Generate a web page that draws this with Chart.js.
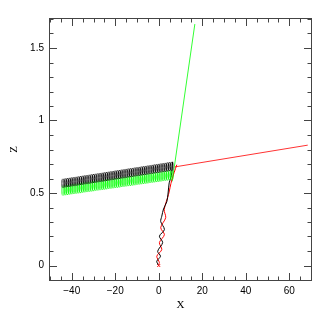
<!DOCTYPE html>
<html lang="en-US">
<head>
  <meta charset="utf-8">
  <title>x-z trajectory</title>
  <script src="https://cdn.jsdelivr.net/npm/chart.js@4.4.1/dist/chart.umd.min.js"></script>
  <style>
    html, body { margin: 0; padding: 0; background: #fff; }
    #holder { width: 327px; height: 327px; }
  </style>
</head>
<body>
  <div id="holder"><canvas id="chart"></canvas></div>
  <script>
    // loops of the spiral (one per ~1 unit in x)
    const loopX = [-44, -43, -42, -41, -40, -39, -38, -37, -36, -35, -34, -33, -32, -31, -30, -29, -28,
      -27, -26, -25, -24, -23, -22, -21, -20, -19, -18, -17, -16, -15, -14, -13, -12, -11, -10, -9,
      -8, -7, -6, -5, -4, -3, -2, -1, 0, 1, 2, 3, 4, 5, 6];
    const loopBlackZ = [0.567, 0.570, 0.572, 0.574, 0.577, 0.579, 0.581, 0.584, 0.586, 0.588, 0.591,
      0.593, 0.595, 0.598, 0.600, 0.602, 0.605, 0.607, 0.609, 0.612, 0.614, 0.616, 0.619, 0.621, 0.624,
      0.626, 0.628, 0.631, 0.633, 0.635, 0.638, 0.640, 0.642, 0.645, 0.647, 0.649, 0.652, 0.654, 0.656,
      0.659, 0.661, 0.663, 0.666, 0.668, 0.670, 0.673, 0.675, 0.677, 0.680, 0.682, 0.684];
    const loopGreenZ = [0.517, 0.519, 0.521, 0.524, 0.526, 0.528, 0.530, 0.532, 0.534, 0.537, 0.539,
      0.541, 0.543, 0.545, 0.547, 0.550, 0.552, 0.554, 0.556, 0.558, 0.560, 0.563, 0.565, 0.567, 0.569,
      0.571, 0.573, 0.576, 0.578, 0.580, 0.582, 0.584, 0.586, 0.588, 0.591, 0.593, 0.595, 0.597, 0.599,
      0.601, 0.604, 0.606, 0.608, 0.610, 0.612, 0.614, 0.617, 0.619, 0.621, 0.623, 0.625];

    // twisted pair rising from the origin
    const helixBlackX = [-0.3, -0.9, 0.8, -0.5, 1.8, 0.3, 2.6, 0.9, 1.4, 2.2, 3.7, 4.3, 4.8, 5.8, 6.4];
    const helixBlackZ = [0.005, 0.03, 0.064, 0.098, 0.158, 0.202, 0.248, 0.303, 0.34, 0.39, 0.44, 0.5, 0.57, 0.62, 0.715];
    const helixRedX = [-0.3, 0.3, -0.9, 1.4, 0.3, 2.6, 0.9, 3.2, 2.5, 4.5, 6.0, 8.3];
    const helixRedZ = [0.005, 0.02, 0.064, 0.11, 0.158, 0.213, 0.261, 0.33, 0.385, 0.49, 0.59, 0.695];

    // straight escapes
    const redLineX = [7.4, 68.5];
    const redLineZ = [0.68, 0.83];
    const greenLineX = [6.2, 16.6];
    const greenLineZ = [0.58, 1.665];

    const startX = [0];
    const startZ = [0];

    const xTicks = [-40, -20, 0, 20, 40, 60];
    const yTicks = [0, 0.5, 1, 1.5];

    const pts = (xs, zs) => xs.map((x, i) => ({ x: x, y: zs[i] }));

    function ellipseStyle(color, rx, ry) {
      const c = document.createElement('canvas');
      c.width = Math.ceil(rx * 2 + 2);
      c.height = Math.ceil(ry * 2 + 2);
      const g = c.getContext('2d');
      g.strokeStyle = color;
      g.lineWidth = 1;
      g.beginPath();
      g.ellipse(c.width / 2, c.height / 2, rx, ry, 0, 0, Math.PI * 2);
      g.stroke();
      return c;
    }

    const frameTicks = {
      id: 'frameTicks',
      afterDatasetsDraw(chart) {
        const { ctx, chartArea: a, scales: { x, y } } = chart;
        ctx.save();
        ctx.strokeStyle = '#444';
        ctx.lineWidth = 1;
        ctx.strokeRect(a.left - 0.5, a.top - 0.5, a.right - a.left + 1, a.bottom - a.top + 1);
        ctx.beginPath();
        for (let v = -50; v <= 70; v += 5) {
          const px = Math.round(x.getPixelForValue(v)) + 0.5;
          const len = xTicks.includes(v) ? 7 : 3.5;
          ctx.moveTo(px, a.bottom); ctx.lineTo(px, a.bottom - len);
          ctx.moveTo(px, a.top); ctx.lineTo(px, a.top + len);
        }
        for (let k = -1; k <= 17; k++) {
          const v = k / 10;
          const py = Math.round(y.getPixelForValue(v)) + 0.5;
          const len = (k % 5 === 0) ? 7 : 3.5;
          ctx.moveTo(a.left, py); ctx.lineTo(a.left + len, py);
          ctx.moveTo(a.right, py); ctx.lineTo(a.right - len, py);
        }
        ctx.stroke();
        ctx.restore();
      }
    };

    const fmt = v => (v < 0 ? '\u2212' + Math.abs(v) : String(v));

    new Chart(document.getElementById('chart'), {
      type: 'scatter',
      data: {
        datasets: [
          { data: pts(loopX, loopBlackZ), pointStyle: ellipseStyle('#000', 1.4, 4.3), pointRadius: 4 },
          { data: pts(loopX, loopGreenZ), pointStyle: ellipseStyle('#00ff00', 1.4, 4.8), pointRadius: 4 },
          { data: pts(helixBlackX, helixBlackZ), showLine: true, borderColor: '#000', borderWidth: 1, pointRadius: 0, tension: 0.3 },
          { data: pts(helixRedX, helixRedZ), showLine: true, borderColor: '#ff0000', borderWidth: 1, pointRadius: 0, tension: 0.3 },
          { data: pts(redLineX, redLineZ), showLine: true, borderColor: '#ff3333', borderWidth: 1, pointRadius: 0 },
          { data: pts(greenLineX, greenLineZ), showLine: true, borderColor: '#33ff33', borderWidth: 1, pointRadius: 0 },
          { data: pts(startX, startZ), pointStyle: 'crossRot', pointRadius: 2, borderColor: '#ff0000', borderWidth: 1 }
        ]
      },
      options: {
        responsive: true,
        maintainAspectRatio: false,
        animation: false,
        events: [],
        layout: { padding: { top: 19, right: 16, left: 0, bottom: 0 } },
        plugins: { legend: { display: false }, tooltip: { enabled: false } },
        scales: {
          x: {
            type: 'linear', min: -50, max: 70,
            grid: { display: false, drawTicks: false },
            border: { display: false },
            afterBuildTicks: s => { s.ticks = xTicks.map(v => ({ value: v })); },
            afterFit: s => { s.height = 47; },
            ticks: { padding: 5, color: '#000', font: { family: 'Liberation Sans', size: 10 }, callback: fmt },
            title: { display: true, text: 'X', color: '#000', font: { family: 'Liberation Serif', size: 11 }, padding: { top: 0, bottom: 15 } }
          },
          y: {
            type: 'linear', min: -0.1, max: 1.7,
            grid: { display: false, drawTicks: false },
            border: { display: false },
            afterBuildTicks: s => { s.ticks = yTicks.map(v => ({ value: v })); },
            afterFit: s => { s.width = 50; },
            ticks: { padding: 6, color: '#000', font: { family: 'Liberation Sans', size: 10 }, callback: fmt },
            title: { display: true, text: 'Z', color: '#000', font: { family: 'Liberation Serif', size: 11 }, padding: { top: 8, bottom: 0 } }
          }
        }
      },
      plugins: [frameTicks]
    });
  </script>
</body>
</html>
